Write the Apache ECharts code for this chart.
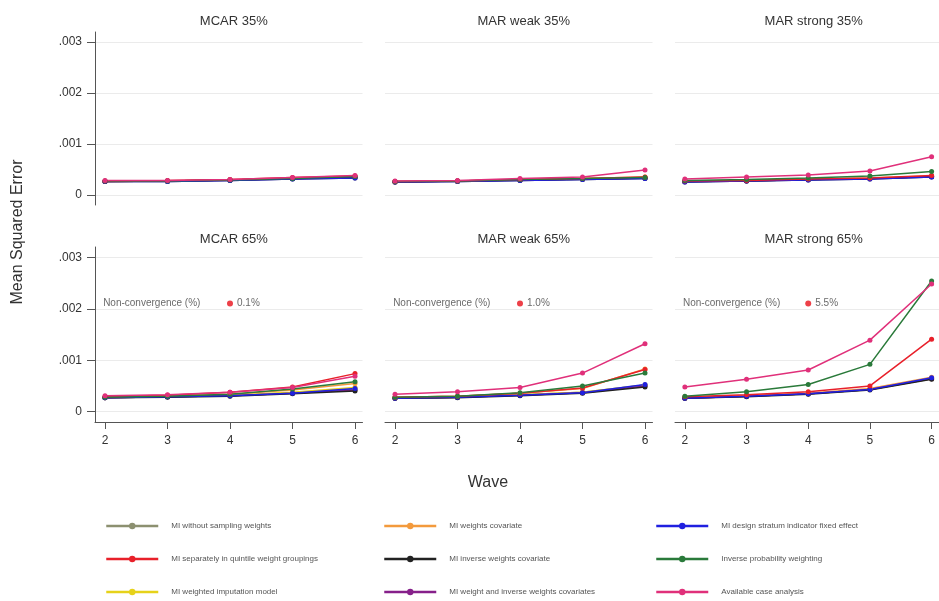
<!DOCTYPE html>
<html><head><meta charset="utf-8">
<script src="https://cdn.jsdelivr.net/npm/echarts@6/dist/echarts.min.js"></script>
<style>html,body{margin:0;padding:0;background:#fff}#c{width:939px;height:601px}</style>
</head><body><div id="c"></div>
<script>
const waves = [2, 3, 4, 5, 6];
const yTicks = [0, 0.001, 0.002, 0.003];
const panelTitles = ['MCAR 35%', 'MAR weak 35%', 'MAR strong 35%', 'MCAR 65%', 'MAR weak 65%', 'MAR strong 65%'];
const methods = [
  'MI without sampling weights',
  'MI separately in quintile weight groupings',
  'MI weighted imputation model',
  'MI weights covariate',
  'MI inverse weights covariate',
  'MI weight and inverse weights covariates',
  'MI design stratum indicator fixed effect',
  'Inverse probability weighting',
  'Available case analysis'
];
const colors = ['#8c9070', '#e8202a', '#e6d21a', '#f39a3c', '#222222', '#86208a', '#2020e0', '#2a7a3a', '#e0307a'];
const nonConvergence = ['0.1%', '1.0%', '5.5%'];

// rows follow the order of `methods`
const mcar35 = [
  [0.00026,0.00027,0.00029,0.00032,0.00034],
  [0.00027,0.00028,0.00030,0.00034,0.00037],
  [0.00026,0.00027,0.00029,0.00032,0.00035],
  [0.00026,0.00027,0.00029,0.00032,0.00035],
  [0.00026,0.00026,0.00028,0.00031,0.00033],
  [0.00026,0.00027,0.00029,0.00032,0.00035],
  [0.00026,0.00026,0.00028,0.00031,0.00033],
  [0.00027,0.00027,0.00029,0.00032,0.00036],
  [0.00028,0.00028,0.00030,0.00034,0.00038]
];
const marWeak35 = [
  [0.00025,0.00027,0.00029,0.00031,0.00033],
  [0.00026,0.00027,0.00030,0.00032,0.00035],
  [0.00025,0.00027,0.00029,0.00031,0.00034],
  [0.00026,0.00027,0.00030,0.00032,0.00035],
  [0.00025,0.00026,0.00028,0.00030,0.00032],
  [0.00025,0.00027,0.00029,0.00031,0.00033],
  [0.00025,0.00026,0.00028,0.00030,0.00032],
  [0.00026,0.00027,0.00030,0.00032,0.00034],
  [0.00027,0.00028,0.00032,0.00035,0.00049]
];
const marStrong35 = [
  [0.00026,0.00027,0.00030,0.00032,0.00036],
  [0.00027,0.00028,0.00031,0.00033,0.00038],
  [0.00026,0.00027,0.00030,0.00032,0.00036],
  [0.00027,0.00028,0.00030,0.00033,0.00037],
  [0.00025,0.00027,0.00029,0.00031,0.00035],
  [0.00026,0.00027,0.00030,0.00032,0.00036],
  [0.00025,0.00027,0.00029,0.00031,0.00035],
  [0.00028,0.00030,0.00033,0.00037,0.00046],
  [0.00031,0.00035,0.00039,0.00047,0.00075]
];
const mcar65 = [
  [0.00027,0.00029,0.00031,0.00037,0.00044],
  [0.00029,0.00032,0.00038,0.00048,0.00074],
  [0.00027,0.00029,0.00032,0.00038,0.00047],
  [0.00028,0.00030,0.00034,0.00042,0.00055],
  [0.00027,0.00028,0.00030,0.00035,0.00040],
  [0.00027,0.00029,0.00031,0.00036,0.00042],
  [0.00027,0.00029,0.00031,0.00036,0.00045],
  [0.00028,0.00030,0.00034,0.00044,0.00058],
  [0.00031,0.00033,0.00038,0.00047,0.00069]
];
const marWeak65 = [
  [0.00026,0.00028,0.00033,0.00038,0.00052],
  [0.00028,0.00030,0.00036,0.00046,0.00082],
  [0.00026,0.00028,0.00033,0.00038,0.00052],
  [0.00028,0.00030,0.00036,0.00045,0.00083],
  [0.00026,0.00027,0.00031,0.00036,0.00048],
  [0.00026,0.00028,0.00032,0.00037,0.00050],
  [0.00026,0.00028,0.00032,0.00037,0.00053],
  [0.00028,0.00030,0.00037,0.00050,0.00075],
  [0.00034,0.00039,0.00047,0.00075,0.00132]
];
const marStrong65 = [
  [0.00026,0.00030,0.00035,0.00043,0.00065],
  [0.00029,0.00033,0.00039,0.00050,0.00141],
  [0.00026,0.00030,0.00035,0.00043,0.00064],
  [0.00027,0.00031,0.00036,0.00045,0.00067],
  [0.00026,0.00029,0.00034,0.00042,0.00063],
  [0.00026,0.00030,0.00035,0.00043,0.00064],
  [0.00026,0.00030,0.00035,0.00043,0.00066],
  [0.00030,0.00039,0.00053,0.00092,0.00254],
  [0.00048,0.00063,0.00081,0.00139,0.00248]
];
const panels = [mcar35, marWeak35, marStrong35, mcar65, marWeak65, marStrong65];

const colLeft = [95, 385, 675];
const gridW = 267.5;
const rowTop = [32, 247];
const rowH = [173, 175];
const FONT = 'Liberation Sans, Arial, sans-serif';

const grids = [], xAxes = [], yAxes = [], titles = [], series = [];
const drawOrder = [0, 2, 3, 5, 4, 6, 1, 7, 8];
for (let p = 0; p < 6; p++) {
  const r = Math.floor(p / 3), c = p % 3;
  grids.push({left: colLeft[c], top: rowTop[r], width: gridW, height: rowH[r]});
  xAxes.push({
    type: 'value', gridIndex: p, min: 1.84, max: 6.12,
    splitLine: {show: false},
    axisLine: {show: r === 1, onZero: false, lineStyle: {color: '#555', width: 1}},
    axisTick: {show: r === 1, customValues: waves, length: 7, lineStyle: {color: '#555'}},
    axisLabel: {show: r === 1, customValues: waves, fontSize: 12, color: '#333', margin: 13, fontFamily: FONT}
  });
  yAxes.push({
    type: 'value', gridIndex: p, min: -0.0002, max: 0.0032,
    axisLine: {show: c === 0, onZero: false, lineStyle: {color: '#555', width: 1}},
    axisTick: {show: c === 0, customValues: yTicks, length: 8, lineStyle: {color: '#555'}},
    axisLabel: {show: c === 0, customValues: yTicks, fontSize: 12, color: '#333', margin: 13, fontFamily: FONT,
      formatter: v => v === 0 ? '0' : String(+v.toFixed(4)).replace(/^0/, '')},
    splitLine: {show: true, lineStyle: {color: '#ebebeb', width: 1}}
  });
  titles.push({
    text: panelTitles[p], left: colLeft[c] + gridW / 2, top: r === 0 ? 10 : 228, textAlign: 'center',
    textStyle: {fontSize: 13, fontWeight: 'normal', color: '#333', fontFamily: FONT}
  });
  for (const i of drawOrder) {
    series.push({
      type: 'line', name: methods[i], xAxisIndex: p, yAxisIndex: p,
      data: waves.map((w, k) => [w, panels[p][i][k]]),
      color: colors[i], symbol: 'circle', symbolSize: 5,
      lineStyle: {width: 1.5, color: colors[i]}, itemStyle: {color: colors[i]},
      silent: true, animation: false
    });
  }
  if (r === 1) {
    series.push({
      type: 'scatter', name: 'nc-label', xAxisIndex: p, yAxisIndex: p,
      data: [[1.97, 0.0021]], symbolSize: 0, silent: true, animation: false,
      label: {show: true, position: 'right', distance: 0, formatter: 'Non-convergence (%)', fontSize: 10, color: '#444', fontFamily: FONT}
    });
    series.push({
      type: 'scatter', name: 'nc-dot', xAxisIndex: p, yAxisIndex: p,
      data: [[4, 0.0021]], symbolSize: 6, itemStyle: {color: '#e8101a'}, silent: true, animation: false,
      label: {show: true, position: 'right', distance: 4, formatter: nonConvergence[c], fontSize: 10, color: '#444', fontFamily: FONT}
    });
  }
}
titles.push({text: 'Wave', left: 483, top: 470, textAlign: 'center',
  textStyle: {fontSize: 16, fontWeight: 'normal', color: '#333', fontFamily: FONT}});

const legendBase = {
  orient: 'vertical', itemWidth: 52, itemHeight: 8, itemGap: 25, top: 522, padding: 0, height: 79,
  textStyle: {fontSize: 8, color: '#555', fontFamily: FONT, padding: [0, 0, 0, 8]},
  lineStyle: {width: 2.5},
  selectedMode: false
};
const legends = [
  Object.assign({}, legendBase, {left: 105, data: [methods[0], methods[1], methods[2]]}),
  Object.assign({}, legendBase, {left: 383, data: [methods[3], methods[4], methods[5]]}),
  Object.assign({}, legendBase, {left: 655, data: [methods[6], methods[7], methods[8]]})
];

const chart = echarts.init(document.getElementById('c'), null, {renderer: 'canvas'});
chart.setOption({
  backgroundColor: '#fff',
  animation: false,
  title: titles,
  grid: grids,
  xAxis: xAxes,
  yAxis: yAxes,
  legend: legends,
  series: series,
  graphic: [{
    type: 'text', x: 18, y: 232, rotation: Math.PI / 2,
    style: {text: 'Mean Squared Error', align: 'center', verticalAlign: 'middle', fontSize: 16, fill: '#333', fontFamily: FONT}
  }]
});
</script></body></html>
